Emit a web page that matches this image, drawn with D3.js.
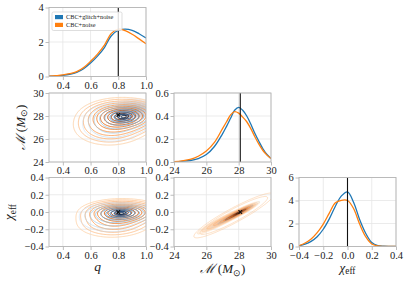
<!DOCTYPE html>
<html><head><meta charset="utf-8">
<script src="https://cdn.jsdelivr.net/npm/d3@7"></script>
<style>
body{margin:0;background:#fff}
svg{display:block}
text{font-family:"Liberation Serif","Times New Roman",serif;fill:#222}
</style></head><body>
<svg id="c" width="407" height="283"></svg>
<script>
// ---------------- data ----------------
const seriesNames = ["CBC+glitch+noise", "CBC+noise"];
const seriesColors = ["#1f77b4", "#ff7f0e"];
const truthValues = [0.8, 28.1, 0.0]; // q, M, chi

const qTicks = [0.4, 0.6, 0.8, 1.0];
const mTicks = [24, 26, 28, 30];
const chiTicks = [-0.4, -0.2, 0.0, 0.2, 0.4];
const qDensTicks = [0, 2, 4];
const mDensTicks = [0.0, 0.2, 0.4, 0.6];
const chiDensTicks = [0, 2, 4, 6];

// marginal posteriors
const qValues   = [0.30,0.35,0.40,0.45,0.50,0.55,0.60,0.65,0.70,0.75,0.80,0.85,0.90,0.95,1.00];
const qBlue     = [0.02,0.04,0.07,0.13,0.24,0.45,0.78,1.18,1.68,2.36,2.68,2.75,2.68,2.48,2.23];
const qOrange   = [0.02,0.05,0.09,0.16,0.28,0.52,0.88,1.30,1.82,2.50,2.75,2.66,2.45,2.18,1.90];

const mValues   = [24,24.5,25,25.5,26,26.5,27,27.25,27.5,27.75,28,28.25,28.5,28.75,29,29.25,29.5,29.75,30];
const mBlue     = [0.002,0.006,0.013,0.03,0.065,0.135,0.245,0.31,0.38,0.45,0.475,0.45,0.40,0.33,0.25,0.18,0.115,0.065,0.03];
const mOrange   = [0.003,0.010,0.022,0.05,0.095,0.17,0.29,0.35,0.41,0.438,0.425,0.39,0.35,0.29,0.22,0.155,0.10,0.06,0.03];

const chiValues = [-0.4,-0.35,-0.3,-0.25,-0.2,-0.15,-0.1,-0.05,0,0.05,0.1,0.15,0.2,0.25,0.3,0.35,0.4];
const chiBlue   = [0.05,0.2,0.45,0.85,1.5,2.4,3.5,4.4,4.75,3.85,2.35,1.15,0.35,0.08,0.02,0.005,0];
const chiOrange = [0.07,0.3,0.65,1.2,1.95,2.9,3.8,4.02,4.0,3.3,1.95,0.85,0.22,0.05,0.01,0.003,0];

// 2-D posteriors as Gaussian components: [meanX, meanY, sdX, sdY, corr, weight]
const qM_blue     = [[0.86, 28.0, 0.11, 0.50, 0.0, 0.6], [0.77, 27.3, 0.12, 0.80, 0.1, 0.4]];
const qM_orange   = [[0.84, 28.05, 0.12, 0.60, 0.0, 0.6], [0.76, 27.3, 0.13, 0.85, 0.1, 0.4]];
const qM_shade    = [[0.92, 28.6, 0.07, 0.45, 0.0, 1.0]];
const qChi_blue   = [[0.83, -0.01, 0.11, 0.05, 0.0, 0.6], [0.75, -0.08, 0.12, 0.08, 0.0, 0.4]];
const qChi_orange = [[0.83, 0.0, 0.12, 0.06, 0.0, 0.6], [0.78, -0.1, 0.13, 0.09, 0.1, 0.4]];
const mChi_blue   = [[27.8, -0.03, 0.7, 0.07, 0.99, 1.0]];
const mChi_orange = [[28.0, -0.01, 0.5, 0.05, 0.95, 0.6], [27.0, -0.1, 0.8, 0.08, 0.95, 0.4]];
const mChi_outer  = [[27.7, -0.04, 0.95, 0.1, 0.93, 1.0]];

const ringSigmas = [2.6,2.35,2.1,1.85,1.6,1.4,1.2,1.0,0.8,0.6,0.4,0.25];
const ringSigmasBlue = [2.4,2.1,1.8,1.5,1.2,0.9,0.65,0.4,0.22];

// ---------------- layout ----------------
const svg = d3.select("#c");
const cols = [49, 174, 299], colW = 97;
const rows = [7.5, 93, 177.5], rowH = 69;
const spine = "#b5b5b5", gridC = "#e6e6e6";
const serif = "'Liberation Serif', 'Times New Roman', serif";

function makePanel(ci, ri, xDom, yDom, xT, yT, xF, yF) {
  const x = d3.scaleLinear().domain(xDom).range([cols[ci], cols[ci] + colW]);
  const y = d3.scaleLinear().domain(yDom).range([rows[ri] + rowH, rows[ri]]);
  const g = svg.append("g");
  g.selectAll(null).data(xT).join("line")
    .attr("x1", d => x(d)).attr("x2", d => x(d))
    .attr("y1", rows[ri]).attr("y2", rows[ri] + rowH)
    .attr("stroke", gridC).attr("stroke-width", 0.8);
  g.selectAll(null).data(yT).join("line")
    .attr("y1", d => y(d)).attr("y2", d => y(d))
    .attr("x1", cols[ci]).attr("x2", cols[ci] + colW)
    .attr("stroke", gridC).attr("stroke-width", 0.8);
  const id = `clip${ci}${ri}`;
  svg.append("clipPath").attr("id", id).append("rect")
    .attr("x", cols[ci]).attr("y", rows[ri]).attr("width", colW).attr("height", rowH);
  const plot = g.append("g").attr("clip-path", `url(#${id})`);
  const top = svg.append("g");
  function finish() {
    top.append("rect").attr("x", cols[ci]).attr("y", rows[ri]).attr("width", colW).attr("height", rowH)
      .attr("fill", "none").attr("stroke", spine).attr("stroke-width", 0.9);
    const ax = top.append("g").attr("transform", `translate(0,${rows[ri] + rowH})`)
      .call(d3.axisBottom(x).tickValues(xT).tickFormat(xF).tickSize(3.5).tickPadding(1.5));
    const ay = top.append("g").attr("transform", `translate(${cols[ci]},0)`)
      .call(d3.axisLeft(y).tickValues(yT).tickFormat(yF).tickSize(3.5).tickPadding(1.8));
    [ax, ay].forEach(a => {
      a.attr("font-family", serif);
      a.select(".domain").remove();
      a.selectAll(".tick line").attr("stroke", spine).attr("stroke-width", 0.9);
      a.selectAll(".tick text").attr("font-size", 10.5).attr("fill", "#222");
    });
  }
  return {x, y, plot, top, finish};
}

const f1 = d3.format(".1f"), f0 = d3.format("d");

function marginal(p, xs, ys, color) {
  const line = d3.line().x((d, i) => p.x(xs[i])).y(d => p.y(d)).curve(d3.curveCatmullRom.alpha(0.5));
  p.plot.append("path").attr("d", line(ys)).attr("fill", "none")
    .attr("stroke", color).attr("stroke-width", 1.3);
}
function truthV(p, v) {
  p.plot.append("line").attr("x1", p.x(v)).attr("x2", p.x(v))
    .attr("y1", p.y.range()[0]).attr("y2", p.y.range()[1])
    .attr("stroke", "#111").attr("stroke-width", 1.1);
}
function mixDensity(comps, x, y) {
  let s = 0;
  for (const [mx, my, sx, sy, r, w] of comps) {
    const dx = (x - mx) / sx, dy = (y - my) / sy;
    const z = (dx * dx - 2 * r * dx * dy + dy * dy) / (1 - r * r);
    s += w * Math.exp(-z / 2) / (sx * sy * Math.sqrt(1 - r * r));
  }
  return s;
}
function contourSet(p, comps, sigmas, colorFn, opts) {
  const [x0, x1] = p.x.domain(), [y0, y1] = p.y.domain();
  const px = (x1 - x0) * 0.15, py = (y1 - y0) * 0.15;
  const X0 = x0 - px, X1 = x1 + px, Y0 = y0 - py, Y1 = y1 + py;
  const nx = 160, ny = 120;
  const dx = (X1 - X0) / (nx - 1), dy = (Y1 - Y0) / (ny - 1);
  const vals = new Float64Array(nx * ny);
  let mx = 0;
  for (let j = 0; j < ny; j++) for (let i = 0; i < nx; i++) {
    const v = mixDensity(comps, X0 + i * dx, Y0 + j * dy);
    vals[j * nx + i] = v; if (v > mx) mx = v;
  }
  const thr = sigmas.map(s => mx * Math.exp(-s * s / 2));
  const conts = d3.contours().size([nx, ny]).thresholds(thr)(vals);
  const proj = d3.geoTransform({point(gx, gy) {
    this.stream.point(p.x(X0 + (gx - 0.5) * dx), p.y(Y0 + (gy - 0.5) * dy));
  }});
  const path = d3.geoPath(proj);
  const n = conts.length;
  p.plot.append("g").selectAll("path").data(conts).join("path")
    .attr("d", path)
    .attr("fill", (d, k) => opts.fill ? opts.fill(k / (n - 1)) : "none")
    .attr("fill-opacity", opts.fillOpacity || 1)
    .attr("stroke", (d, k) => opts.stroke === false ? "none" : colorFn(k / (n - 1)))
    .attr("stroke-width", opts.width || 1.0)
    .attr("stroke-opacity", (d, k) => opts.opacity ? opts.opacity(k / (n - 1)) : 1);
}
const orangeC = d3.scaleLinear().domain([0, 0.35, 0.65, 0.88, 1])
  .range(["#fdd6b0", "#fd9a4e", "#e0600f", "#8a3005", "#2a1204"]).interpolate(d3.interpolateRgb);
const blueC = d3.scaleLinear().domain([0, 0.4, 0.7, 0.9, 1])
  .range(["#c9ddf0", "#86bbe0", "#3a85c4", "#1a4f8f", "#0b2a55"]).interpolate(d3.interpolateRgb);
function truthX(p, vx, vy) {
  const cx = p.x(vx), cy = p.y(vy), s = 1.8;
  p.top.append("path").attr("d", `M${cx - s},${cy - s}L${cx + s},${cy + s}M${cx - s},${cy + s}L${cx + s},${cy - s}`)
    .attr("stroke", "#111").attr("stroke-width", 1.1);
}

// ---- Panel (0,0): q marginal
const pQ = makePanel(0, 0, [0.3, 1.0], [0, 4], qTicks, qDensTicks, f1, f0);
marginal(pQ, qValues, qBlue, seriesColors[0]);
marginal(pQ, qValues, qOrange, seriesColors[1]);
truthV(pQ, truthValues[0]);
pQ.finish();

// ---- Panel (0,1): q vs M
const pQM = makePanel(0, 1, [0.3, 1.0], [24, 30], qTicks, mTicks, f1, f0);
contourSet(pQM, qM_shade, [2.2,1.9,1.6,1.3,1.0,0.7,0.4], () => "none",
  {stroke: false, fill: () => "#6b5a4e", fillOpacity: 0.07});
contourSet(pQM, qM_orange, ringSigmas, orangeC, {width: 1.0});
contourSet(pQM, qM_blue, ringSigmasBlue, blueC, {width: 1.0, opacity: t => 0.55 + 0.45 * t});
pQM.finish();
truthX(pQM, truthValues[0], truthValues[1]);

// ---- Panel (0,2): q vs chi
const pQC = makePanel(0, 2, [0.3, 1.0], [-0.4, 0.4], qTicks, chiTicks, f1, f1);
contourSet(pQC, qChi_orange, ringSigmas, orangeC, {width: 1.0});
contourSet(pQC, qChi_blue, ringSigmasBlue, blueC, {width: 1.0, opacity: t => 0.55 + 0.45 * t});
pQC.finish();
truthX(pQC, truthValues[0], truthValues[2]);

// ---- Panel (1,1): M marginal
const pM = makePanel(1, 1, [24, 30], [0, 0.6], mTicks, mDensTicks, f0, f1);
marginal(pM, mValues, mBlue, seriesColors[0]);
marginal(pM, mValues, mOrange, seriesColors[1]);
truthV(pM, truthValues[1]);
pM.finish();

// ---- Panel (1,2): M vs chi
const pMC = makePanel(1, 2, [24, 30], [-0.4, 0.4], mTicks, chiTicks, f0, f1);
contourSet(pMC, mChi_outer, [2.6, 2.2], () => "#fcc99a", {width: 0.8, opacity: () => 0.7});
contourSet(pMC, mChi_orange, ringSigmas, orangeC,
  {width: 0.7, fill: t => orangeC(t), fillOpacity: 0.35, opacity: t => 0.6});
contourSet(pMC, mChi_blue, [2.2, 1.6, 1.0], blueC, {width: 0.6, opacity: () => 0.4});
pMC.finish();
truthX(pMC, truthValues[1], truthValues[2]);

// ---- Panel (2,2): chi marginal
const pC = makePanel(2, 2, [-0.4, 0.4], [0, 6], chiTicks, chiDensTicks, f1, f0);
marginal(pC, chiValues, chiBlue, seriesColors[0]);
marginal(pC, chiValues, chiOrange, seriesColors[1]);
truthV(pC, truthValues[2]);
pC.finish();

// ---- Legend
const lg = svg.append("g").attr("transform", "translate(52,12)");
lg.append("rect").attr("width", 70).attr("height", 18.5).attr("rx", 1.5)
  .attr("fill", "#fff").attr("fill-opacity", 0.85).attr("stroke", "#d0d0d0").attr("stroke-width", 0.7);
seriesNames.forEach((s, i) => {
  lg.append("rect").attr("x", 3).attr("y", 3 + i * 7.8).attr("width", 8).attr("height", 4.2)
    .attr("fill", seriesColors[i]);
  lg.append("text").attr("x", 14).attr("y", 7.2 + i * 7.8).attr("font-size", 6.3).text(s);
});

// ---- Axis labels
function mLabel(sel) {
  sel.append("tspan").attr("font-style", "italic").text("ℳ");
  sel.append("tspan").text(" (");
  sel.append("tspan").attr("font-style", "italic").text("M");
  sel.append("tspan").attr("font-size", "0.7em").attr("dy", 2.5).text("⊙");
  sel.append("tspan").attr("dy", -2.5).text(")");
}
function chiLabel(sel) {
  sel.append("tspan").attr("font-style", "italic").text("χ");
  sel.append("tspan").attr("font-size", "0.72em").attr("dy", 2.5).text("eff");
}
svg.append("text").attr("x", cols[0] + colW / 2).attr("y", 271).attr("text-anchor", "middle")
  .attr("font-size", 13.5).attr("font-style", "italic").text("q");
svg.append("text").attr("x", cols[1] + colW / 2).attr("y", 273).attr("text-anchor", "middle")
  .attr("font-size", 13).call(mLabel);
svg.append("text").attr("x", cols[2] + colW / 2).attr("y", 271.5).attr("text-anchor", "middle")
  .attr("font-size", 13).call(chiLabel);
svg.append("text").attr("transform", `translate(24.5,${rows[1] + rowH / 2}) rotate(-90)`)
  .attr("text-anchor", "middle").attr("font-size", 13).call(mLabel);
svg.append("text").attr("transform", `translate(13,${rows[2] + rowH / 2}) rotate(-90)`)
  .attr("text-anchor", "middle").attr("font-size", 13).call(chiLabel);
</script>
</body></html>
